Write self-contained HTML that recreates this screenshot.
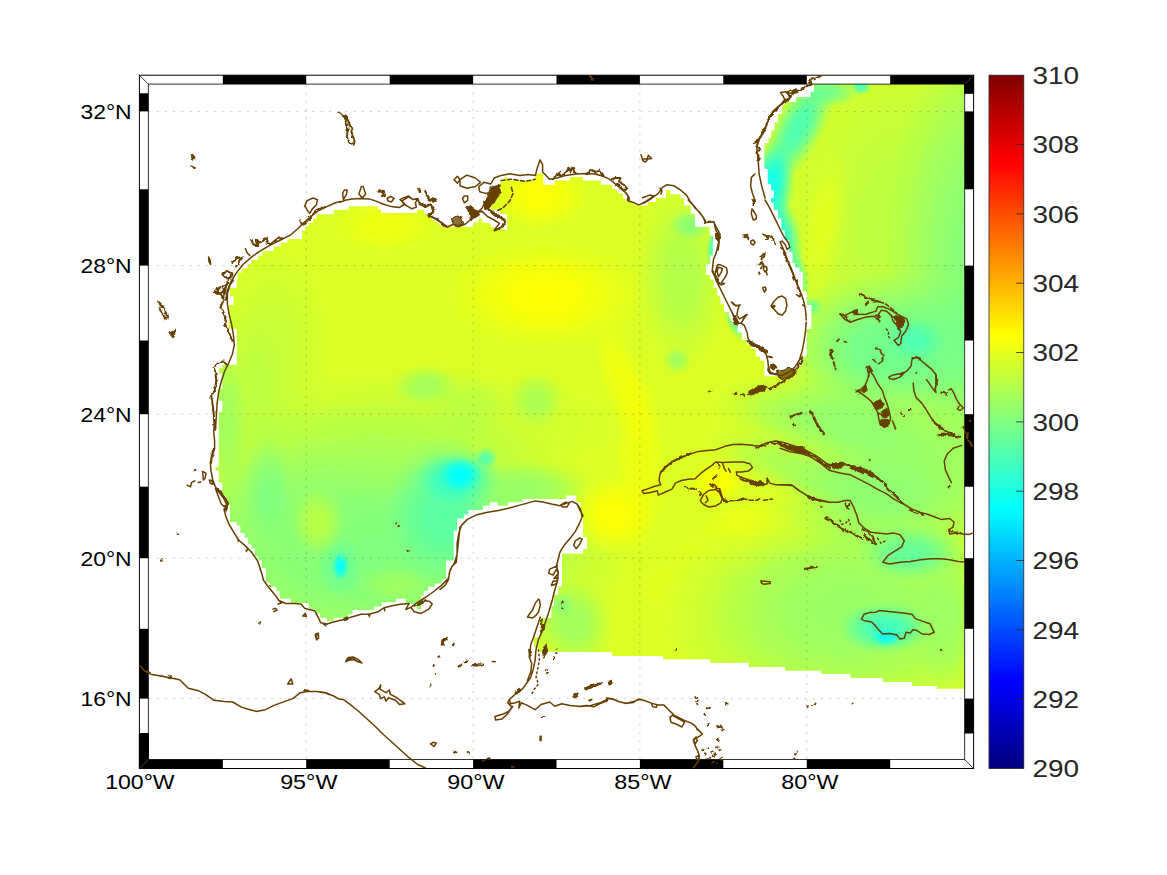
<!DOCTYPE html><html><head><meta charset="utf-8"><title>SST map</title>
<style>html,body{margin:0;padding:0;background:#fff;}svg{display:block;font-family:"Liberation Sans",sans-serif;}</style></head><body>
<svg width="1167" height="875" viewBox="0 0 1167 875">
<defs>
<linearGradient id="jet" x1="0" y1="1" x2="0" y2="0">
<stop offset="0" stop-color="#000080"/>
<stop offset="0.125" stop-color="#0000ff"/>
<stop offset="0.375" stop-color="#00ffff"/>
<stop offset="0.625" stop-color="#ffff00"/>
<stop offset="0.875" stop-color="#ff0000"/>
<stop offset="1" stop-color="#800000"/>
</linearGradient>
</defs>

<rect width="1167" height="875" fill="#fff"/>
<clipPath id="dclip"><path d="M340.0 209.7L348.6 209.7L348.6 206.3L377.7 206.3L377.7 209.7L381.1 209.7L381.1 213.1L417.1 213.1L417.1 209.7L424.0 209.7L424.0 214.0L429.1 214.0L432.5 220.0L439.4 223.4L441.1 226.8L473.7 226.8L473.7 222.5L478.8 222.5L478.8 218.3L482.2 218.3L482.2 222.5L490.8 223.4L490.8 226.8L496.0 227.7L507.1 230.2L507.1 214.0L500.2 214.0L500.2 209.7L490.8 209.7L490.8 206.3L494.2 201.1L500.2 185.7L500.2 180.5L504.5 180.5L504.5 177.1L507.1 177.1L507.1 180.5L535.4 180.5L535.4 173.7L540.0 173.7L540.0 173.7L543.4 173.7L543.4 184.8L554.6 184.8L554.6 180.5L570.0 180.5L570.0 177.1L582.8 177.1L582.8 180.5L600.8 180.5L600.8 184.8L612.0 184.8L612.0 189.1L615.4 189.1L618.8 193.4L623.1 193.4L623.1 197.7L627.4 202.0L634.3 202.0L634.3 205.4L648.0 205.4L648.0 202.0L655.7 202.0L655.7 197.7L666.0 197.7L666.0 190.0L670.2 190.0L670.2 194.3L680.5 194.3L680.5 197.7L684.0 197.7L684.0 205.4L690.8 205.4L690.8 214.0L695.1 214.0L695.1 226.8L709.7 226.8L709.7 235.4L713.1 235.4L713.1 250.0L712.8 240.0L712.8 255.4L710.3 255.4L710.3 264.0L706.0 264.0L706.0 275.1L710.3 275.1L710.3 279.4L713.7 279.4L713.7 288.0L717.1 288.0L717.1 295.7L720.5 295.7L720.5 304.3L724.0 304.3L724.0 312.0L729.1 312.0L729.1 316.3L733.4 324.0L737.7 325.7L737.7 332.5L742.0 332.5L742.0 340.3L747.1 340.3L747.1 344.5L751.4 344.5L751.4 348.8L755.7 348.8L755.7 356.5L760.0 356.5L760.0 360.8L764.3 360.8L764.3 376.2L776.8 376.2L782.2 372.8L793.2 369.6L800.1 367.3L802.1 356.5L806.9 356.5L806.9 329.1L811.4 329.1L811.4 305.1L807.1 305.1L807.1 291.4L802.8 291.4L802.8 271.7L799.4 271.7L799.4 267.4L795.1 267.4L795.1 263.1L792.5 263.1L792.5 252.0L789.1 252.0L789.1 240.0L784.8 240.0L784.8 230.5L781.4 230.5L781.4 218.5L778.0 218.5L778.0 210.0L773.7 210.0L773.7 203.1L771.1 203.1L771.1 198.0L773.7 198.0L773.7 190.3L771.1 190.3L771.1 184.3L767.7 184.3L767.7 168.8L764.3 168.8L764.3 143.1L768.6 143.1L768.6 138.0L771.1 138.0L771.1 130.3L774.6 130.3L774.6 122.6L778.0 122.6L778.0 114.0L782.3 114.0L782.3 107.1L785.7 102.0L796.0 102.0L796.0 96.9L810.5 96.9L810.5 91.7L814.0 91.7L814.0 90.0L813.9 90.0L813.9 84.0L964.4 84.0L964.4 688.8L936.8 688.8L936.8 685.9L912.0 685.9L912.0 682.0L882.8 682.0L882.8 678.0L850.3 678.0L850.3 673.9L821.1 673.9L821.1 670.8L785.1 670.8L785.1 667.1L780.0 667.1L780.0 667.1L748.8 667.1L748.8 663.1L710.2 663.1L710.2 659.2L663.1 659.2L663.1 655.9L612.2 655.9L612.2 652.0L580.0 652.0L538.5 651.8L538.5 647.6L533.9 647.6L533.9 637.4L540.3 637.4L540.3 618.0L551.4 618.0L551.4 606.0L554.0 606.0L554.0 600.0L554.0 606.0L554.0 594.8L558.3 594.8L558.3 586.3L562.0 586.3L562.0 553.4L583.1 553.4L583.1 549.1L587.0 549.1L587.0 537.1L583.1 537.1L583.1 516.8L580.5 516.8L580.5 502.3L576.2 502.3L576.2 495.4L566.0 495.4L566.0 498.9L522.3 498.9L522.3 502.3L507.7 502.3L507.7 505.7L497.4 505.7L497.4 502.3L489.7 502.3L489.7 505.7L482.8 505.7L482.8 510.0L468.3 510.0L468.3 514.3L464.0 514.3L464.0 518.6L457.1 518.6L457.1 530.6L453.7 530.6L453.7 560.5L446.0 560.5L446.0 579.4L441.7 579.4L441.7 582.8L440.0 582.8L441.7 579.1L441.7 583.4L434.8 583.4L434.8 586.8L428.0 586.8L428.0 591.1L423.7 591.1L423.7 595.4L421.1 595.4L421.1 609.1L416.8 609.1L416.8 604.0L405.7 604.0L405.7 598.8L396.2 598.8L396.2 602.3L381.7 602.3L381.7 606.5L374.0 606.5L374.0 610.0L352.5 610.0L352.5 614.3L348.3 614.3L348.3 617.7L333.7 617.7L333.7 621.1L326.8 621.1L326.8 617.7L320.0 617.7L320.0 613.4L315.7 613.4L315.7 609.1L308.8 609.1L308.8 603.1L290.8 603.1L290.8 598.8L279.7 598.8L279.7 591.1L276.3 591.1L276.3 586.8L270.3 586.8L270.3 582.6L266.0 582.6L266.0 568.0L261.7 568.0L261.7 560.3L260.0 560.3L261.7 560.5L258.3 560.5L258.3 556.2L254.8 556.2L254.8 548.5L251.4 548.5L251.4 544.3L248.0 544.3L248.0 537.4L244.5 537.4L244.5 533.1L240.3 533.1L240.3 525.4L236.8 525.4L236.8 522.0L230.0 522.0L230.0 504.8L226.5 504.8L226.5 496.3L222.3 496.3L222.3 482.6L218.8 482.6L218.8 470.6L215.4 470.6L215.4 467.1L218.8 467.1L218.8 420.0L218.8 430.0L218.8 412.0L222.3 412.0L222.3 400.8L218.8 400.8L218.8 388.8L222.3 388.8L222.3 373.4L218.8 373.4L218.8 368.3L222.3 368.3L222.3 364.8L236.8 364.8L236.8 328.8L229.1 328.8L229.1 304.9L233.4 304.9L233.4 296.3L230.0 296.3L230.0 287.7L236.8 287.7L236.8 280.0L237.7 280.2L237.7 272.5L242.0 272.5L242.0 268.3L248.0 268.3L248.0 264.0L251.4 264.0L251.4 259.7L258.3 259.7L258.3 255.4L262.5 255.4L262.5 251.1L273.7 251.1L273.7 246.8L280.5 246.8L280.5 242.5L287.4 242.5L287.4 239.1L302.0 239.1L302.0 230.5L305.4 230.5L305.4 226.3L308.8 226.3L308.8 222.8L313.1 222.8L313.1 218.6L316.5 218.6L316.5 214.3L333.7 214.3L333.7 210.0L340.0 210.0Z"/></clipPath><clipPath id="outer"><rect x="139.4" y="75.2" width="834.2" height="693.3"/></clipPath><g clip-path="url(#dclip)"><defs><radialGradient id="b0"><stop offset="0" stop-color="#ffffff" stop-opacity="0.95"/><stop offset="0.3" stop-color="#ffffff" stop-opacity="0.87"/><stop offset="0.55" stop-color="#ffffff" stop-opacity="0.59"/><stop offset="0.8" stop-color="#ffffff" stop-opacity="0.21"/><stop offset="1" stop-color="#ffffff" stop-opacity="0"/></radialGradient><radialGradient id="b1"><stop offset="0" stop-color="#ffffff" stop-opacity="0.90"/><stop offset="0.3" stop-color="#ffffff" stop-opacity="0.83"/><stop offset="0.55" stop-color="#ffffff" stop-opacity="0.56"/><stop offset="0.8" stop-color="#ffffff" stop-opacity="0.20"/><stop offset="1" stop-color="#ffffff" stop-opacity="0"/></radialGradient><radialGradient id="b2"><stop offset="0" stop-color="#ffffff" stop-opacity="0.55"/><stop offset="0.3" stop-color="#ffffff" stop-opacity="0.51"/><stop offset="0.55" stop-color="#ffffff" stop-opacity="0.34"/><stop offset="0.8" stop-color="#ffffff" stop-opacity="0.12"/><stop offset="1" stop-color="#ffffff" stop-opacity="0"/></radialGradient><radialGradient id="b3"><stop offset="0" stop-color="#8c8c8c" stop-opacity="0.70"/><stop offset="0.3" stop-color="#8c8c8c" stop-opacity="0.64"/><stop offset="0.55" stop-color="#8c8c8c" stop-opacity="0.43"/><stop offset="0.8" stop-color="#8c8c8c" stop-opacity="0.15"/><stop offset="1" stop-color="#8c8c8c" stop-opacity="0"/></radialGradient><radialGradient id="b4"><stop offset="0" stop-color="#999999" stop-opacity="0.70"/><stop offset="0.3" stop-color="#999999" stop-opacity="0.64"/><stop offset="0.55" stop-color="#999999" stop-opacity="0.43"/><stop offset="0.8" stop-color="#999999" stop-opacity="0.15"/><stop offset="1" stop-color="#999999" stop-opacity="0"/></radialGradient><radialGradient id="b5"><stop offset="0" stop-color="#8c8c8c" stop-opacity="0.75"/><stop offset="0.3" stop-color="#8c8c8c" stop-opacity="0.69"/><stop offset="0.55" stop-color="#8c8c8c" stop-opacity="0.46"/><stop offset="0.8" stop-color="#8c8c8c" stop-opacity="0.17"/><stop offset="1" stop-color="#8c8c8c" stop-opacity="0"/></radialGradient><radialGradient id="b6"><stop offset="0" stop-color="#b2b2b2" stop-opacity="0.50"/><stop offset="0.3" stop-color="#b2b2b2" stop-opacity="0.46"/><stop offset="0.55" stop-color="#b2b2b2" stop-opacity="0.31"/><stop offset="0.8" stop-color="#b2b2b2" stop-opacity="0.11"/><stop offset="1" stop-color="#b2b2b2" stop-opacity="0"/></radialGradient><radialGradient id="b7"><stop offset="0" stop-color="#9e9e9e" stop-opacity="0.65"/><stop offset="0.3" stop-color="#9e9e9e" stop-opacity="0.60"/><stop offset="0.55" stop-color="#9e9e9e" stop-opacity="0.40"/><stop offset="0.8" stop-color="#9e9e9e" stop-opacity="0.14"/><stop offset="1" stop-color="#9e9e9e" stop-opacity="0"/></radialGradient><radialGradient id="b8"><stop offset="0" stop-color="#ffffff" stop-opacity="0.60"/><stop offset="0.3" stop-color="#ffffff" stop-opacity="0.55"/><stop offset="0.55" stop-color="#ffffff" stop-opacity="0.37"/><stop offset="0.8" stop-color="#ffffff" stop-opacity="0.13"/><stop offset="1" stop-color="#ffffff" stop-opacity="0"/></radialGradient><radialGradient id="b9"><stop offset="0" stop-color="#808080" stop-opacity="0.60"/><stop offset="0.3" stop-color="#808080" stop-opacity="0.55"/><stop offset="0.55" stop-color="#808080" stop-opacity="0.37"/><stop offset="0.8" stop-color="#808080" stop-opacity="0.13"/><stop offset="1" stop-color="#808080" stop-opacity="0"/></radialGradient><radialGradient id="b10"><stop offset="0" stop-color="#adadad" stop-opacity="0.50"/><stop offset="0.3" stop-color="#adadad" stop-opacity="0.46"/><stop offset="0.55" stop-color="#adadad" stop-opacity="0.31"/><stop offset="0.8" stop-color="#adadad" stop-opacity="0.11"/><stop offset="1" stop-color="#adadad" stop-opacity="0"/></radialGradient><radialGradient id="b11"><stop offset="0" stop-color="#adadad" stop-opacity="0.45"/><stop offset="0.3" stop-color="#adadad" stop-opacity="0.41"/><stop offset="0.55" stop-color="#adadad" stop-opacity="0.28"/><stop offset="0.8" stop-color="#adadad" stop-opacity="0.10"/><stop offset="1" stop-color="#adadad" stop-opacity="0"/></radialGradient><radialGradient id="b12"><stop offset="0" stop-color="#adadad" stop-opacity="0.40"/><stop offset="0.3" stop-color="#adadad" stop-opacity="0.37"/><stop offset="0.55" stop-color="#adadad" stop-opacity="0.25"/><stop offset="0.8" stop-color="#adadad" stop-opacity="0.09"/><stop offset="1" stop-color="#adadad" stop-opacity="0"/></radialGradient><radialGradient id="b13"><stop offset="0" stop-color="#808080" stop-opacity="1.00"/><stop offset="0.3" stop-color="#808080" stop-opacity="0.92"/><stop offset="0.55" stop-color="#808080" stop-opacity="0.62"/><stop offset="0.8" stop-color="#808080" stop-opacity="0.22"/><stop offset="1" stop-color="#808080" stop-opacity="0"/></radialGradient><radialGradient id="b14"><stop offset="0" stop-color="#8c8c8c" stop-opacity="0.60"/><stop offset="0.3" stop-color="#8c8c8c" stop-opacity="0.55"/><stop offset="0.55" stop-color="#8c8c8c" stop-opacity="0.37"/><stop offset="0.8" stop-color="#8c8c8c" stop-opacity="0.13"/><stop offset="1" stop-color="#8c8c8c" stop-opacity="0"/></radialGradient><radialGradient id="b15"><stop offset="0" stop-color="#4c4c4c" stop-opacity="0.80"/><stop offset="0.3" stop-color="#4c4c4c" stop-opacity="0.74"/><stop offset="0.55" stop-color="#4c4c4c" stop-opacity="0.50"/><stop offset="0.8" stop-color="#4c4c4c" stop-opacity="0.18"/><stop offset="1" stop-color="#4c4c4c" stop-opacity="0"/></radialGradient><radialGradient id="b16"><stop offset="0" stop-color="#262626" stop-opacity="0.80"/><stop offset="0.3" stop-color="#262626" stop-opacity="0.74"/><stop offset="0.55" stop-color="#262626" stop-opacity="0.50"/><stop offset="0.8" stop-color="#262626" stop-opacity="0.18"/><stop offset="1" stop-color="#262626" stop-opacity="0"/></radialGradient><radialGradient id="b17"><stop offset="0" stop-color="#000000" stop-opacity="1.00"/><stop offset="0.3" stop-color="#000000" stop-opacity="0.92"/><stop offset="0.55" stop-color="#000000" stop-opacity="0.62"/><stop offset="0.8" stop-color="#000000" stop-opacity="0.22"/><stop offset="1" stop-color="#000000" stop-opacity="0"/></radialGradient><radialGradient id="b18"><stop offset="0" stop-color="#404040" stop-opacity="0.80"/><stop offset="0.3" stop-color="#404040" stop-opacity="0.74"/><stop offset="0.55" stop-color="#404040" stop-opacity="0.50"/><stop offset="0.8" stop-color="#404040" stop-opacity="0.18"/><stop offset="1" stop-color="#404040" stop-opacity="0"/></radialGradient><radialGradient id="b19"><stop offset="0" stop-color="#808080" stop-opacity="0.60"/><stop offset="0.3" stop-color="#808080" stop-opacity="0.55"/><stop offset="0.55" stop-color="#808080" stop-opacity="0.37"/><stop offset="0.8" stop-color="#808080" stop-opacity="0.13"/><stop offset="1" stop-color="#808080" stop-opacity="0"/></radialGradient><radialGradient id="b20"><stop offset="0" stop-color="#595959" stop-opacity="0.60"/><stop offset="0.3" stop-color="#595959" stop-opacity="0.55"/><stop offset="0.55" stop-color="#595959" stop-opacity="0.37"/><stop offset="0.8" stop-color="#595959" stop-opacity="0.13"/><stop offset="1" stop-color="#595959" stop-opacity="0"/></radialGradient><radialGradient id="b21"><stop offset="0" stop-color="#000000" stop-opacity="0.95"/><stop offset="0.3" stop-color="#000000" stop-opacity="0.87"/><stop offset="0.55" stop-color="#000000" stop-opacity="0.59"/><stop offset="0.8" stop-color="#000000" stop-opacity="0.21"/><stop offset="1" stop-color="#000000" stop-opacity="0"/></radialGradient><radialGradient id="b22"><stop offset="0" stop-color="#737373" stop-opacity="0.60"/><stop offset="0.3" stop-color="#737373" stop-opacity="0.55"/><stop offset="0.55" stop-color="#737373" stop-opacity="0.37"/><stop offset="0.8" stop-color="#737373" stop-opacity="0.13"/><stop offset="1" stop-color="#737373" stop-opacity="0"/></radialGradient><radialGradient id="b23"><stop offset="0" stop-color="#d9d9d9" stop-opacity="0.60"/><stop offset="0.3" stop-color="#d9d9d9" stop-opacity="0.55"/><stop offset="0.55" stop-color="#d9d9d9" stop-opacity="0.37"/><stop offset="0.8" stop-color="#d9d9d9" stop-opacity="0.13"/><stop offset="1" stop-color="#d9d9d9" stop-opacity="0"/></radialGradient><radialGradient id="b24"><stop offset="0" stop-color="#bfbfbf" stop-opacity="0.40"/><stop offset="0.3" stop-color="#bfbfbf" stop-opacity="0.37"/><stop offset="0.55" stop-color="#bfbfbf" stop-opacity="0.25"/><stop offset="0.8" stop-color="#bfbfbf" stop-opacity="0.09"/><stop offset="1" stop-color="#bfbfbf" stop-opacity="0"/></radialGradient><radialGradient id="b25"><stop offset="0" stop-color="#ffffff" stop-opacity="0.50"/><stop offset="0.3" stop-color="#ffffff" stop-opacity="0.46"/><stop offset="0.55" stop-color="#ffffff" stop-opacity="0.31"/><stop offset="0.8" stop-color="#ffffff" stop-opacity="0.11"/><stop offset="1" stop-color="#ffffff" stop-opacity="0"/></radialGradient><radialGradient id="b26"><stop offset="0" stop-color="#ffffff" stop-opacity="0.90"/><stop offset="0.3" stop-color="#ffffff" stop-opacity="0.83"/><stop offset="0.55" stop-color="#ffffff" stop-opacity="0.56"/><stop offset="0.8" stop-color="#ffffff" stop-opacity="0.20"/><stop offset="1" stop-color="#ffffff" stop-opacity="0"/></radialGradient><radialGradient id="b27"><stop offset="0" stop-color="#ffffff" stop-opacity="0.90"/><stop offset="0.3" stop-color="#ffffff" stop-opacity="0.83"/><stop offset="0.55" stop-color="#ffffff" stop-opacity="0.56"/><stop offset="0.8" stop-color="#ffffff" stop-opacity="0.20"/><stop offset="1" stop-color="#ffffff" stop-opacity="0"/></radialGradient><radialGradient id="b28"><stop offset="0" stop-color="#ffffff" stop-opacity="0.60"/><stop offset="0.3" stop-color="#ffffff" stop-opacity="0.55"/><stop offset="0.55" stop-color="#ffffff" stop-opacity="0.37"/><stop offset="0.8" stop-color="#ffffff" stop-opacity="0.13"/><stop offset="1" stop-color="#ffffff" stop-opacity="0"/></radialGradient><radialGradient id="b29"><stop offset="0" stop-color="#f2f2f2" stop-opacity="0.50"/><stop offset="0.3" stop-color="#f2f2f2" stop-opacity="0.46"/><stop offset="0.55" stop-color="#f2f2f2" stop-opacity="0.31"/><stop offset="0.8" stop-color="#f2f2f2" stop-opacity="0.11"/><stop offset="1" stop-color="#f2f2f2" stop-opacity="0"/></radialGradient><radialGradient id="b30"><stop offset="0" stop-color="#e6e6e6" stop-opacity="0.50"/><stop offset="0.3" stop-color="#e6e6e6" stop-opacity="0.46"/><stop offset="0.55" stop-color="#e6e6e6" stop-opacity="0.31"/><stop offset="0.8" stop-color="#e6e6e6" stop-opacity="0.11"/><stop offset="1" stop-color="#e6e6e6" stop-opacity="0"/></radialGradient><radialGradient id="b31"><stop offset="0" stop-color="#f2f2f2" stop-opacity="0.50"/><stop offset="0.3" stop-color="#f2f2f2" stop-opacity="0.46"/><stop offset="0.55" stop-color="#f2f2f2" stop-opacity="0.31"/><stop offset="0.8" stop-color="#f2f2f2" stop-opacity="0.11"/><stop offset="1" stop-color="#f2f2f2" stop-opacity="0"/></radialGradient><radialGradient id="b32"><stop offset="0" stop-color="#d9d9d9" stop-opacity="0.50"/><stop offset="0.3" stop-color="#d9d9d9" stop-opacity="0.46"/><stop offset="0.55" stop-color="#d9d9d9" stop-opacity="0.31"/><stop offset="0.8" stop-color="#d9d9d9" stop-opacity="0.11"/><stop offset="1" stop-color="#d9d9d9" stop-opacity="0"/></radialGradient><radialGradient id="b33"><stop offset="0" stop-color="#e6e6e6" stop-opacity="0.40"/><stop offset="0.3" stop-color="#e6e6e6" stop-opacity="0.37"/><stop offset="0.55" stop-color="#e6e6e6" stop-opacity="0.25"/><stop offset="0.8" stop-color="#e6e6e6" stop-opacity="0.09"/><stop offset="1" stop-color="#e6e6e6" stop-opacity="0"/></radialGradient><radialGradient id="b34"><stop offset="0" stop-color="#8c8c8c" stop-opacity="0.85"/><stop offset="0.3" stop-color="#8c8c8c" stop-opacity="0.78"/><stop offset="0.55" stop-color="#8c8c8c" stop-opacity="0.53"/><stop offset="0.8" stop-color="#8c8c8c" stop-opacity="0.19"/><stop offset="1" stop-color="#8c8c8c" stop-opacity="0"/></radialGradient><radialGradient id="b35"><stop offset="0" stop-color="#404040" stop-opacity="0.70"/><stop offset="0.3" stop-color="#404040" stop-opacity="0.64"/><stop offset="0.55" stop-color="#404040" stop-opacity="0.43"/><stop offset="0.8" stop-color="#404040" stop-opacity="0.15"/><stop offset="1" stop-color="#404040" stop-opacity="0"/></radialGradient><radialGradient id="b36"><stop offset="0" stop-color="#333333" stop-opacity="0.85"/><stop offset="0.3" stop-color="#333333" stop-opacity="0.78"/><stop offset="0.55" stop-color="#333333" stop-opacity="0.53"/><stop offset="0.8" stop-color="#333333" stop-opacity="0.19"/><stop offset="1" stop-color="#333333" stop-opacity="0"/></radialGradient><radialGradient id="b37"><stop offset="0" stop-color="#000000" stop-opacity="0.80"/><stop offset="0.3" stop-color="#000000" stop-opacity="0.74"/><stop offset="0.55" stop-color="#000000" stop-opacity="0.50"/><stop offset="0.8" stop-color="#000000" stop-opacity="0.18"/><stop offset="1" stop-color="#000000" stop-opacity="0"/></radialGradient><radialGradient id="b38"><stop offset="0" stop-color="#8c8c8c" stop-opacity="0.70"/><stop offset="0.3" stop-color="#8c8c8c" stop-opacity="0.64"/><stop offset="0.55" stop-color="#8c8c8c" stop-opacity="0.43"/><stop offset="0.8" stop-color="#8c8c8c" stop-opacity="0.15"/><stop offset="1" stop-color="#8c8c8c" stop-opacity="0"/></radialGradient><radialGradient id="b39"><stop offset="0" stop-color="#737373" stop-opacity="0.60"/><stop offset="0.3" stop-color="#737373" stop-opacity="0.55"/><stop offset="0.55" stop-color="#737373" stop-opacity="0.37"/><stop offset="0.8" stop-color="#737373" stop-opacity="0.13"/><stop offset="1" stop-color="#737373" stop-opacity="0"/></radialGradient><radialGradient id="b40"><stop offset="0" stop-color="#999999" stop-opacity="0.45"/><stop offset="0.3" stop-color="#999999" stop-opacity="0.41"/><stop offset="0.55" stop-color="#999999" stop-opacity="0.28"/><stop offset="0.8" stop-color="#999999" stop-opacity="0.10"/><stop offset="1" stop-color="#999999" stop-opacity="0"/></radialGradient><radialGradient id="b41"><stop offset="0" stop-color="#404040" stop-opacity="0.90"/><stop offset="0.3" stop-color="#404040" stop-opacity="0.83"/><stop offset="0.55" stop-color="#404040" stop-opacity="0.56"/><stop offset="0.8" stop-color="#404040" stop-opacity="0.20"/><stop offset="1" stop-color="#404040" stop-opacity="0"/></radialGradient><radialGradient id="b42"><stop offset="0" stop-color="#595959" stop-opacity="0.70"/><stop offset="0.3" stop-color="#595959" stop-opacity="0.64"/><stop offset="0.55" stop-color="#595959" stop-opacity="0.43"/><stop offset="0.8" stop-color="#595959" stop-opacity="0.15"/><stop offset="1" stop-color="#595959" stop-opacity="0"/></radialGradient><radialGradient id="b43"><stop offset="0" stop-color="#000000" stop-opacity="0.90"/><stop offset="0.3" stop-color="#000000" stop-opacity="0.83"/><stop offset="0.55" stop-color="#000000" stop-opacity="0.56"/><stop offset="0.8" stop-color="#000000" stop-opacity="0.20"/><stop offset="1" stop-color="#000000" stop-opacity="0"/></radialGradient><radialGradient id="b44"><stop offset="0" stop-color="#1a1a1a" stop-opacity="0.90"/><stop offset="0.3" stop-color="#1a1a1a" stop-opacity="0.83"/><stop offset="0.55" stop-color="#1a1a1a" stop-opacity="0.56"/><stop offset="0.8" stop-color="#1a1a1a" stop-opacity="0.20"/><stop offset="1" stop-color="#1a1a1a" stop-opacity="0"/></radialGradient><radialGradient id="b45"><stop offset="0" stop-color="#404040" stop-opacity="0.80"/><stop offset="0.3" stop-color="#404040" stop-opacity="0.74"/><stop offset="0.55" stop-color="#404040" stop-opacity="0.50"/><stop offset="0.8" stop-color="#404040" stop-opacity="0.18"/><stop offset="1" stop-color="#404040" stop-opacity="0"/></radialGradient><radialGradient id="b46"><stop offset="0" stop-color="#f2f2f2" stop-opacity="0.55"/><stop offset="0.3" stop-color="#f2f2f2" stop-opacity="0.51"/><stop offset="0.55" stop-color="#f2f2f2" stop-opacity="0.34"/><stop offset="0.8" stop-color="#f2f2f2" stop-opacity="0.12"/><stop offset="1" stop-color="#f2f2f2" stop-opacity="0"/></radialGradient><radialGradient id="b47"><stop offset="0" stop-color="#666666" stop-opacity="0.70"/><stop offset="0.3" stop-color="#666666" stop-opacity="0.64"/><stop offset="0.55" stop-color="#666666" stop-opacity="0.43"/><stop offset="0.8" stop-color="#666666" stop-opacity="0.15"/><stop offset="1" stop-color="#666666" stop-opacity="0"/></radialGradient><radialGradient id="b48"><stop offset="0" stop-color="#333333" stop-opacity="0.85"/><stop offset="0.3" stop-color="#333333" stop-opacity="0.78"/><stop offset="0.55" stop-color="#333333" stop-opacity="0.53"/><stop offset="0.8" stop-color="#333333" stop-opacity="0.19"/><stop offset="1" stop-color="#333333" stop-opacity="0"/></radialGradient><radialGradient id="b49"><stop offset="0" stop-color="#666666" stop-opacity="0.90"/><stop offset="0.3" stop-color="#666666" stop-opacity="0.83"/><stop offset="0.55" stop-color="#666666" stop-opacity="0.56"/><stop offset="0.8" stop-color="#666666" stop-opacity="0.20"/><stop offset="1" stop-color="#666666" stop-opacity="0"/></radialGradient><radialGradient id="b50"><stop offset="0" stop-color="#808080" stop-opacity="0.80"/><stop offset="0.3" stop-color="#808080" stop-opacity="0.74"/><stop offset="0.55" stop-color="#808080" stop-opacity="0.50"/><stop offset="0.8" stop-color="#808080" stop-opacity="0.18"/><stop offset="1" stop-color="#808080" stop-opacity="0"/></radialGradient><radialGradient id="b51"><stop offset="0" stop-color="#404040" stop-opacity="0.70"/><stop offset="0.3" stop-color="#404040" stop-opacity="0.64"/><stop offset="0.55" stop-color="#404040" stop-opacity="0.43"/><stop offset="0.8" stop-color="#404040" stop-opacity="0.15"/><stop offset="1" stop-color="#404040" stop-opacity="0"/></radialGradient><radialGradient id="b52"><stop offset="0" stop-color="#595959" stop-opacity="0.70"/><stop offset="0.3" stop-color="#595959" stop-opacity="0.64"/><stop offset="0.55" stop-color="#595959" stop-opacity="0.43"/><stop offset="0.8" stop-color="#595959" stop-opacity="0.15"/><stop offset="1" stop-color="#595959" stop-opacity="0"/></radialGradient><radialGradient id="b53"><stop offset="0" stop-color="#4c4c4c" stop-opacity="0.75"/><stop offset="0.3" stop-color="#4c4c4c" stop-opacity="0.69"/><stop offset="0.55" stop-color="#4c4c4c" stop-opacity="0.46"/><stop offset="0.8" stop-color="#4c4c4c" stop-opacity="0.17"/><stop offset="1" stop-color="#4c4c4c" stop-opacity="0"/></radialGradient><radialGradient id="b54"><stop offset="0" stop-color="#333333" stop-opacity="0.85"/><stop offset="0.3" stop-color="#333333" stop-opacity="0.78"/><stop offset="0.55" stop-color="#333333" stop-opacity="0.53"/><stop offset="0.8" stop-color="#333333" stop-opacity="0.19"/><stop offset="1" stop-color="#333333" stop-opacity="0"/></radialGradient><radialGradient id="b55"><stop offset="0" stop-color="#737373" stop-opacity="0.70"/><stop offset="0.3" stop-color="#737373" stop-opacity="0.64"/><stop offset="0.55" stop-color="#737373" stop-opacity="0.43"/><stop offset="0.8" stop-color="#737373" stop-opacity="0.15"/><stop offset="1" stop-color="#737373" stop-opacity="0"/></radialGradient><radialGradient id="b56"><stop offset="0" stop-color="#8c8c8c" stop-opacity="0.60"/><stop offset="0.3" stop-color="#8c8c8c" stop-opacity="0.55"/><stop offset="0.55" stop-color="#8c8c8c" stop-opacity="0.37"/><stop offset="0.8" stop-color="#8c8c8c" stop-opacity="0.13"/><stop offset="1" stop-color="#8c8c8c" stop-opacity="0"/></radialGradient><radialGradient id="b57"><stop offset="0" stop-color="#808080" stop-opacity="0.85"/><stop offset="0.3" stop-color="#808080" stop-opacity="0.78"/><stop offset="0.55" stop-color="#808080" stop-opacity="0.53"/><stop offset="0.8" stop-color="#808080" stop-opacity="0.19"/><stop offset="1" stop-color="#808080" stop-opacity="0"/></radialGradient><radialGradient id="b58"><stop offset="0" stop-color="#8c8c8c" stop-opacity="0.50"/><stop offset="0.3" stop-color="#8c8c8c" stop-opacity="0.46"/><stop offset="0.55" stop-color="#8c8c8c" stop-opacity="0.31"/><stop offset="0.8" stop-color="#8c8c8c" stop-opacity="0.11"/><stop offset="1" stop-color="#8c8c8c" stop-opacity="0"/></radialGradient><filter id="jetmap" x="0" y="0" width="100%" height="100%" filterUnits="userSpaceOnUse" color-interpolation-filters="sRGB"><feColorMatrix type="matrix" values="1 0 0 0 0  0 0 0 0 1  -1 0 0 0 1  0 0 0 1 0"/></filter></defs><g filter="url(#jetmap)"><rect x="139" y="75" width="836" height="695" fill="#dbdbdb"/><ellipse cx="545" cy="295" rx="100" ry="55" fill="url(#b0)"/><ellipse cx="540" cy="195" rx="50" ry="36" fill="url(#b1)"/><ellipse cx="385" cy="225" rx="55" ry="30" fill="url(#b2)"/><ellipse cx="426" cy="386" rx="36" ry="22" fill="url(#b3)"/><ellipse cx="536" cy="400" rx="30" ry="30" fill="url(#b4)"/><ellipse cx="226" cy="415" rx="24" ry="75" fill="url(#b5)"/><ellipse cx="272" cy="350" rx="60" ry="110" fill="url(#b6)"/><ellipse cx="682" cy="275" rx="48" ry="95" fill="url(#b7)"/><ellipse cx="625" cy="385" rx="24" ry="75" fill="url(#b8)" transform="rotate(-20 625 385)"/><ellipse cx="677" cy="360" rx="15" ry="15" fill="url(#b9)"/><ellipse cx="470" cy="405" rx="40" ry="35" fill="url(#b10)"/><ellipse cx="400" cy="425" rx="230" ry="55" fill="url(#b11)"/><ellipse cx="250" cy="400" rx="40" ry="90" fill="url(#b12)"/><ellipse cx="370" cy="550" rx="260" ry="150" fill="url(#b13)"/><ellipse cx="290" cy="520" rx="100" ry="90" fill="url(#b14)"/><ellipse cx="445" cy="510" rx="60" ry="75" fill="url(#b15)"/><ellipse cx="458" cy="478" rx="44" ry="28" fill="url(#b16)"/><ellipse cx="460.5" cy="475" rx="22" ry="18" fill="url(#b17)"/><ellipse cx="486" cy="458" rx="12" ry="11" fill="url(#b18)"/><ellipse cx="525" cy="488" rx="65" ry="28" fill="url(#b19)"/><ellipse cx="340" cy="566" rx="24" ry="32" fill="url(#b20)"/><ellipse cx="340.5" cy="566" rx="9" ry="15" fill="url(#b21)"/><ellipse cx="268" cy="490" rx="26" ry="55" fill="url(#b22)"/><ellipse cx="318" cy="522" rx="28" ry="36" fill="url(#b23)"/><ellipse cx="395" cy="585" rx="40" ry="20" fill="url(#b24)"/><ellipse cx="640" cy="460" rx="28" ry="100" fill="url(#b25)"/><ellipse cx="612" cy="515" rx="45" ry="42" fill="url(#b26)"/><ellipse cx="717" cy="482" rx="30" ry="22" fill="url(#b27)"/><ellipse cx="750" cy="526" rx="50" ry="26" fill="url(#b28)"/><ellipse cx="795" cy="538" rx="55" ry="20" fill="url(#b29)"/><ellipse cx="800" cy="585" rx="45" ry="18" fill="url(#b30)"/><ellipse cx="745" cy="552" rx="75" ry="28" fill="url(#b31)"/><ellipse cx="940" cy="605" rx="25" ry="15" fill="url(#b32)"/><ellipse cx="700" cy="590" rx="90" ry="50" fill="url(#b33)"/><ellipse cx="850" cy="610" rx="190" ry="120" fill="url(#b34)"/><ellipse cx="912" cy="552" rx="55" ry="30" fill="url(#b35)"/><ellipse cx="885" cy="628" rx="48" ry="26" fill="url(#b36)"/><ellipse cx="886" cy="637" rx="16" ry="10" fill="url(#b37)"/><ellipse cx="575" cy="625" rx="40" ry="45" fill="url(#b38)"/><ellipse cx="562" cy="605" rx="13" ry="13" fill="url(#b39)"/><ellipse cx="905" cy="230" rx="140" ry="220" fill="url(#b40)"/><ellipse cx="798" cy="128" rx="26" ry="70" fill="url(#b41)" transform="rotate(28 798 128)"/><ellipse cx="830" cy="92" rx="30" ry="16" fill="url(#b42)"/><ellipse cx="772" cy="185" rx="24" ry="45" fill="url(#b43)" transform="rotate(5 772 185)"/><ellipse cx="780" cy="235" rx="22" ry="50" fill="url(#b44)" transform="rotate(-12 780 235)"/><ellipse cx="795" cy="275" rx="15" ry="30" fill="url(#b45)" transform="rotate(-15 795 275)"/><ellipse cx="825" cy="222" rx="24" ry="85" fill="url(#b46)" transform="rotate(8 825 222)"/><ellipse cx="985" cy="290" rx="100" ry="300" fill="url(#b47)"/><ellipse cx="861" cy="86" rx="11" ry="10" fill="url(#b48)"/><ellipse cx="890" cy="350" rx="120" ry="80" fill="url(#b49)"/><ellipse cx="850" cy="425" rx="140" ry="45" fill="url(#b50)" transform="rotate(10 850 425)"/><ellipse cx="916" cy="340" rx="30" ry="22" fill="url(#b51)"/><ellipse cx="812" cy="307" rx="12" ry="11" fill="url(#b52)"/><ellipse cx="735" cy="322" rx="9" ry="22" fill="url(#b53)" transform="rotate(-25 735 322)"/><ellipse cx="714" cy="250" rx="8" ry="24" fill="url(#b54)"/><ellipse cx="690" cy="225" rx="22" ry="16" fill="url(#b55)"/><ellipse cx="800" cy="470" rx="100" ry="28" fill="url(#b56)" transform="rotate(20 800 470)"/><ellipse cx="890" cy="490" rx="115" ry="70" fill="url(#b57)"/><ellipse cx="945" cy="620" rx="35" ry="80" fill="url(#b58)"/></g></g>
<path d="M306.2 84.1V759.6M473.1 84.1V759.6M639.9 84.1V759.6M806.8 84.1V759.6M148.3 111.4H964.7M148.3 265.6H964.7M148.3 414.2H964.7M148.3 558.2H964.7M148.3 698.6H964.7" stroke="#000" stroke-opacity="0.26" stroke-width="0.7" stroke-dasharray="2.4 5.8" fill="none"/>
<path d="M139.4 75.2L139.4 768.5L148.3 759.6L148.3 84.10000000000001Z" fill="#fff"/><rect x="139.4" y="93.3" width="8.9" height="18.1" fill="#000"/><rect x="139.4" y="189.3" width="8.9" height="76.3" fill="#000"/><rect x="139.4" y="340.5" width="8.9" height="73.7" fill="#000"/><rect x="139.4" y="486.7" width="8.9" height="71.5" fill="#000"/><rect x="139.4" y="628.8" width="8.9" height="69.8" fill="#000"/>
<path d="M973.6 75.2L973.6 768.5L964.7 759.6L964.7 84.10000000000001Z" fill="#fff"/><rect x="964.7" y="111.4" width="8.9" height="77.9" fill="#000"/><rect x="964.7" y="265.6" width="8.9" height="74.9" fill="#000"/><rect x="964.7" y="414.2" width="8.9" height="72.5" fill="#000"/><rect x="964.7" y="558.2" width="8.9" height="70.6" fill="#000"/><rect x="964.7" y="698.6" width="8.9" height="34.9" fill="#000"/>
<path d="M964.7 84.10000000000001L973.6 75.2L973.6 93.3L964.7 93.3Z" fill="#000" stroke="#000" stroke-width="1"/>
<path d="M148.3 759.6L139.4 768.5L139.4 733.5L148.3 733.5Z" fill="#000" stroke="#000" stroke-width="1"/>
<path d="M139.4 75.2L973.6 75.2L964.7 84.10000000000001L148.3 84.10000000000001Z" fill="#fff"/><path d="M222.8 75.2L306.2 75.2L306.2 84.10000000000001L222.8 84.10000000000001Z" fill="#000"/><path d="M389.7 75.2L473.1 75.2L473.1 84.10000000000001L389.7 84.10000000000001Z" fill="#000"/><path d="M556.5 75.2L639.9 75.2L639.9 84.10000000000001L556.5 84.10000000000001Z" fill="#000"/><path d="M723.3 75.2L806.8 75.2L806.8 84.10000000000001L723.3 84.10000000000001Z" fill="#000"/><path d="M890.2 75.2L973.6 75.2L964.7 84.10000000000001L890.2 84.10000000000001Z" fill="#000"/>
<path d="M139.4 768.5L973.6 768.5L964.7 759.6L148.3 759.6Z" fill="#fff"/><path d="M139.4 768.5L222.8 768.5L222.8 759.6L148.3 759.6Z" fill="#000"/><path d="M306.2 768.5L389.7 768.5L389.7 759.6L306.2 759.6Z" fill="#000"/><path d="M473.1 768.5L556.5 768.5L556.5 759.6L473.1 759.6Z" fill="#000"/><path d="M639.9 768.5L723.3 768.5L723.3 759.6L639.9 759.6Z" fill="#000"/><path d="M806.8 768.5L890.2 768.5L890.2 759.6L806.8 759.6Z" fill="#000"/>
<rect x="139.4" y="75.2" width="834.2" height="693.3" fill="none" stroke="#000" stroke-width="1"/>
<rect x="148.3" y="84.10000000000001" width="816.4" height="675.5" fill="none" stroke="#000" stroke-width="0.8"/>
<path d="M139.4 75.2L148.3 84.10000000000001M973.6 768.5L964.7 759.6" stroke="#000" stroke-width="0.8" fill="none"/>
<defs><filter id="rough" x="130" y="70" width="850" height="705" filterUnits="userSpaceOnUse"><feTurbulence type="fractalNoise" baseFrequency="0.22" numOctaves="2" seed="7" result="n"/><feDisplacementMap in="SourceGraphic" in2="n" scale="4" xChannelSelector="R" yChannelSelector="G"/></filter></defs><g fill="none" stroke="#664000" stroke-linejoin="round" stroke-linecap="round" clip-path="url(#outer)"><path d="M340.0 202.3L345.1 200.3L352.0 198.9L360.6 198.5L369.1 198.9L376.0 201.1L382.8 204.0L391.4 206.6L399.1 207.6L404.3 204.5L401.7 201.1L408.6 196.8L412.8 199.4L418.0 199.1L419.7 204.5L425.7 207.1L428.3 204.5L431.7 205.4L433.4 211.4L429.1 215.7L434.3 218.3L437.7 220.0L442.8 223.4L447.1 227.2L453.1 224.3L458.3 226.8L465.1 224.3L470.2 220.0L472.8 216.5L470.2 211.4L466.8 207.1L472.0 209.7L478.8 211.4L482.2 208.0L484.8 202.8L487.4 198.5L492.5 196.0L496.0 189.1L500.2 185.7L494.2 187.4L490.8 192.5L485.7 193.4L479.7 191.7L478.8 186.5L484.0 182.3L490.8 184.0L494.2 178.0L501.1 175.4L509.7 173.7L519.9 175.4L528.5 174.6L535.4 175.4L537.1 168.6L540.0 160.0M484.8 202.8L489.1 209.7L494.2 213.1L501.1 218.3L505.4 221.7L502.8 226.8L494.2 230.2L499.4 223.4L494.2 220.0L487.4 216.5L482.2 211.4M460.0 179.7L466.8 175.1L475.4 178.0L480.5 182.3L475.4 186.5L466.8 188.3L460.0 185.7ZM454.0 179.7L457.4 176.3L460.0 179.7L457.4 183.1ZM540.0 160.0L542.6 164.3L542.6 172.0L546.0 175.4L549.4 179.2L557.1 178.0L565.7 175.4L576.0 174.0L586.3 173.4L594.8 174.0L603.4 176.3L610.3 179.7L615.4 184.0L621.4 189.1L626.5 193.4L629.1 197.7L629.1 201.1L634.3 202.8L638.5 204.9L644.5 202.8L651.4 198.5L658.3 193.4L662.5 187.4L666.8 184.8L673.7 185.7L680.5 190.0L686.5 195.1L690.0 201.1L694.2 206.3L698.5 211.4L702.8 216.5L705.4 222.5L714.0 221.7L715.7 230.2L719.1 235.4L719.1 242.2L718.2 250.0M626.5 193.9L628.3 196.0L627.4 200.3L629.5 201.5M641.1 154.8L642.8 160.8L645.4 162.0L648.0 159.1L651.7 158.6L648.3 155.2L647.1 159.1L643.7 159.1M642.5 197.7L649.7 195.1L654.0 196.0L646.3 201.1L642.8 202.8M660.0 188.3L662.0 190.8L660.8 193.9M733.4 318.8L736.0 324.0L741.1 323.1L744.5 325.7L747.1 332.5L748.0 338.5L751.4 343.7L756.5 346.3L762.5 349.7L766.0 354.0L767.7 360.0L768.5 366.8L770.2 372.0L775.4 374.5L782.2 375.4L789.1 372.0L795.1 366.8L799.4 360.0L802.0 351.4L803.7 342.8L805.4 332.5L806.2 322.3M732.5 302.6L736.0 306.0L739.4 305.1L737.7 310.3L736.8 315.4L739.4 318.8L742.8 317.1L746.3 314.6L742.8 320.5L741.1 323.1M831.6 349.7L830.6 354.0L832.3 358.3M765.1 198.0L761.7 186.0L759.1 174.0L758.3 162.0L757.4 153.4L756.6 146.6L759.1 139.7L763.4 132.8L766.8 124.3L769.4 117.4L773.7 110.6L780.5 104.6L785.7 101.1L783.1 96.0L780.5 92.6L785.7 91.7L790.8 93.4L796.0 90.0M754.8 174.0L751.4 177.4L750.6 186.0L752.3 192.8L754.8 199.7L753.1 204.0M861.4 619.4L864.0 614.3L869.1 612.6L876.0 612.2L879.4 610.5L886.3 611.2L896.5 612.2L906.8 613.4L912.0 614.3L915.4 618.6L922.2 621.1L930.0 623.7L932.5 628.8L934.2 632.3L929.1 634.5L922.2 634.0L917.1 630.6L912.8 629.7L910.2 633.1L906.0 632.3L904.3 638.3L900.0 639.1L896.5 634.8L889.7 633.5L882.8 634.0L878.5 629.7L875.1 625.4L871.7 622.0L865.7 621.1ZM580.0 706.3L586.9 705.6L593.7 706.8L600.6 703.4L607.4 700.8L606.6 697.9L613.4 699.1L619.4 701.7L625.4 703.4L633.1 702.5L638.3 699.1L645.1 700.8L652.0 703.4L657.1 704.8L664.0 705.1L669.1 710.2L674.3 715.4L682.8 719.7L691.4 723.1L695.7 726.5L697.4 730.0M651.6 703.7L652.8 706.8L656.3 707.2L657.1 704.8M670.0 717.1L672.5 715.4L684.5 722.2L682.0 727.0L676.0 724.0L670.8 722.2ZM589.4 700.8L591.7 699.5M706.8 708.5L710.2 707.7M717.1 725.7L719.7 727.0L722.2 727.4L720.5 725.3M760.8 580.9L770.2 581.7L770.2 583.4L764.2 584.3L761.7 583.4ZM542.8 630.0L545.4 622.2L548.8 612.0L552.3 600.0L554.8 589.7L557.4 581.1L558.3 572.5L556.5 565.7L558.3 558.8L560.0 552.0L564.3 545.1L570.2 538.3L575.4 531.4L579.7 522.8L582.2 516.8L580.5 509.1L577.1 504.0L572.0 501.4L566.8 503.1L560.0 505.7L551.4 504.0L542.8 501.9L535.1 500.9L527.4 503.1L518.8 505.4L508.6 508.3L498.3 510.5L486.3 512.6L476.0 515.1L467.4 519.4L461.4 525.4L458.9 533.1L457.1 543.4L457.1 553.7L456.3 562.3L452.0 566.5L449.4 572.5L448.6 579.4L445.1 585.4L440.0 589.3M573.7 545.1L575.4 540.8L579.7 537.9L582.2 539.1L579.7 544.3L576.2 548.6ZM560.8 504.9L565.1 502.3L569.4 503.1L566.8 507.1L562.5 507.1ZM577.1 504.0L579.7 510.0L583.1 516.0L581.4 512.6M557.4 565.7L549.7 569.1L548.8 573.4L553.1 575.1L556.5 569.1L558.3 573.4L554.0 578.5L558.3 577.7L556.5 581.1L553.1 581.1L551.4 585.4L554.8 584.5L557.4 582.0M538.5 599.1L535.1 603.4L532.5 610.2L529.1 614.5L527.4 617.1L532.5 618.0L536.0 615.4L538.5 612.0L540.3 605.1L539.4 600.0ZM542.8 630.0L538.5 639.4L536.0 649.7L535.1 660.0L533.4 668.6L530.8 677.1L527.4 682.3L522.3 689.1L515.4 694.3L509.4 699.4L510.3 703.7L515.4 702.8L519.7 701.1L518.8 708.0L521.4 702.8L527.4 705.4L535.1 709.7L541.1 704.5L549.7 702.0L554.8 706.3L561.7 703.7L570.2 705.4L580.5 706.6L590.8 705.4L601.1 702.5L608.8 698.5L613.1 699.4L619.9 702.0L626.8 703.2L633.7 701.5L640.0 699.1M540.3 617.1L536.8 627.4L533.4 637.7L530.8 644.6L530.0 651.4L529.1 656.6L531.7 663.4L530.8 672.0L527.4 680.5M509.4 699.4L507.7 702.8L512.0 707.1L508.6 711.4L503.4 714.0L494.8 716.5L495.7 720.0L501.7 719.1L506.8 714.8L510.3 709.7L512.8 706.3M589.1 700.3L591.7 699.4M540.1 736.2L541.1 736.2L541.1 740.5L540.1 740.5ZM442.1 641.1L444.3 639.1L446.9 639.1L443.4 641.1L442.6 644.9M459.7 666.0L461.4 665.1M492.3 661.4L495.2 661.7M460.0 526.9L457.1 554.3L454.5 562.8L450.2 569.7L448.5 578.3L441.7 585.1L433.1 592.0L424.5 598.0L417.7 602.3L410.8 607.4L405.7 609.5L409.1 603.6L400.5 604.3L392.0 605.7L384.3 607.7L378.3 611.7L369.7 613.9L361.1 614.3L352.5 616.8L344.0 619.4L335.4 621.5L326.8 624.0L320.8 622.8L318.3 617.7L314.8 610.8L308.8 609.5L304.6 608.3L301.1 604.0L294.3 603.5L285.7 603.5L278.9 600.5L275.4 595.4L271.1 590.3L267.7 586.0L263.4 580.0L261.7 573.1L260.0 568.8M410.8 607.4L414.2 611.7L421.1 613.4L428.8 609.1L432.2 604.0L429.7 601.4L424.5 600.5M302.8 616.0L305.4 613.4L306.3 616.3ZM315.7 634.0L318.3 633.1L318.6 638.3L316.6 639.1ZM345.7 661.4L348.3 657.6L353.4 657.1L358.5 659.7L362.0 663.1L357.7 661.4L353.4 659.2L349.1 659.2ZM272.9 609.1L275.4 608.3L277.1 610.0L273.7 611.7M278.9 600.5L281.4 603.1L278.0 604.0M442.5 640.0L445.9 638.6L443.4 640.0L442.5 642.5L444.2 645.1M384.3 607.7L384.8 610.8M344.0 618.5L347.4 617.3L347.7 619.4L344.8 620.4ZM260.8 570.0L257.4 560.5L251.4 552.0L244.5 545.1L238.5 540.0L234.3 533.1L229.1 524.5L225.7 516.0L224.0 509.1L227.4 505.7L224.0 498.8L218.8 492.0L215.4 486.8L212.8 480.0L211.1 471.4L210.3 462.8L212.0 456.0L214.6 449.1L214.6 440.6L213.7 432.0L214.6 425.1L215.4 420.0M215.4 488.6L218.0 495.4L221.4 504.0L224.0 506.5L228.3 504.0L225.7 498.8L221.4 493.7L217.1 490.3ZM187.1 485.1L190.6 486.8L191.4 482.6L194.8 480.8M198.3 482.6L200.8 482.0M202.6 471.4L206.0 473.1L205.1 478.3L203.4 480.0ZM209.4 480.0L212.0 480.8L212.8 484.3L210.3 483.4ZM215.4 430.0L216.3 417.1L217.1 403.4L218.8 391.4L221.4 381.1L224.8 370.8L229.1 362.3L232.5 353.7L234.3 345.1L233.4 334.8L231.7 324.6L229.1 314.3L227.4 304.0L227.4 293.7L230.0 285.1L233.4 280.0M225.7 300.0L227.4 290.5L230.8 282.0L236.0 273.4L242.8 264.8L251.4 257.1L260.0 251.1L270.2 245.1L280.5 240.0L290.8 234.8L297.7 228.8L304.5 222.0L311.4 216.0L318.2 210.8L326.8 206.6L333.7 203.5L340.0 201.4M245.4 248.5L247.1 252.8L249.7 255.4M304.5 206.6L307.1 200.6L313.1 198.0L317.4 199.7L316.5 204.8L312.2 209.1L309.7 213.4L307.1 210.0L305.4 206.6ZM208.6 257.1L210.3 260.5L210.6 264.5L208.9 261.4ZM642.0 490.8L647.1 489.1L654.0 486.5L660.8 484.8L659.1 480.5L660.0 473.7L664.3 467.7L671.1 462.6L679.7 458.3L688.3 454.5L698.6 451.4L707.1 450.6L715.7 449.7L724.3 446.6L732.8 444.6L741.4 444.2L750.0 444.9L756.0 445.9L760.2 445.4L767.1 442.8L775.7 441.1L784.2 442.8L792.8 445.4L801.4 448.0L809.9 452.3L818.5 457.4L825.4 462.6L830.0 466.0M642.0 490.8L643.7 493.4L650.6 492.5L657.4 490.8L658.3 495.1L664.3 492.5L672.0 489.1L675.4 483.1L681.4 480.5L688.3 479.2L695.1 478.8L700.3 473.7L707.1 468.6L712.3 465.1L715.7 462.0L722.5 462.6L732.8 462.0L743.1 462.0L750.0 463.8L752.5 467.7L748.3 471.1L741.4 472.0L736.3 472.0L737.1 475.4L743.1 478.0L750.0 480.5L756.8 482.3L762.0 484.8L767.1 484.0L767.1 478.0L769.7 483.1L775.7 484.8L784.2 484.8L792.8 485.7L799.7 490.8L806.5 495.1L813.4 498.5L821.9 501.1L830.0 502.5M700.3 500.3L703.7 494.3L708.8 490.5L715.7 489.5L720.8 492.5L722.5 498.5L720.8 502.8L715.7 505.9L708.8 507.1L703.7 504.5L701.1 502.0ZM705.4 502.8L708.0 500.3L706.3 496.0M722.5 463.1L724.3 468.6L726.0 471.1M903.4 504.0L912.0 509.1L920.5 512.5L927.4 514.3L934.2 516.8L941.1 519.4L949.7 518.5L954.0 522.0L953.1 527.1L948.8 529.7L949.7 534.0L956.5 533.1L963.4 534.0L968.5 534.5L972.8 533.1M780.0 448.3L790.3 451.7L800.6 453.4L810.8 456.8L821.1 463.7L829.7 470.6L840.0 473.1L850.3 474.8L858.8 479.1L869.1 484.3L877.7 489.4L886.3 493.7L894.8 499.7L903.4 504.0M780.0 485.1L786.9 484.8L792.0 485.1L797.1 489.4L804.0 493.7L810.8 498.0L819.4 499.7L829.7 502.3L838.3 502.3L845.1 500.5L850.3 500.5L853.7 507.4L857.1 516.0L858.8 522.8L864.0 528.0L870.8 532.3L877.7 533.1L886.3 534.0L894.0 533.1L900.0 534.8L904.3 540.8L901.7 546.8L894.8 551.1L888.0 555.4L882.8 562.2L889.7 564.0L900.0 562.2L910.2 561.4L920.5 559.7L930.8 558.8L941.1 558.8L949.7 559.7L958.2 561.4L964.4 561.9M892.3 420.9L895.7 428.6M961.7 445.4L953.1 448.3L947.1 454.3L944.2 461.1L945.4 469.7L948.8 477.4L951.4 482.6M840.0 313.7L845.1 315.4L853.7 311.1L856.3 314.6L865.7 314.2L876.0 311.1L877.7 306.8L882.8 306.8L889.7 309.4L896.5 313.7L901.7 316.3L906.8 318.8L908.5 324.8L906.0 330.8L901.7 336.0L900.8 343.7L898.3 345.4L894.0 340.3L898.3 337.7L900.8 331.7L898.3 326.6L893.1 321.4L891.4 315.4L886.3 311.1L881.1 310.3L878.5 314.6L877.7 319.7L874.3 316.3L865.7 317.1L857.1 319.7L850.3 322.3L845.1 319.7ZM837.4 340.3L839.1 339.1M844.3 341.6L846.5 342.3M888.8 377.1L893.1 374.9L900.0 373.7L905.1 372.0L900.0 377.1L894.0 379.3L889.7 378.8ZM912.0 359.1L917.1 357.4L920.5 360.0L925.7 364.3L931.7 369.4L936.0 374.5L936.8 381.4L935.1 388.3L936.0 392.5L932.5 388.3L929.1 383.1L926.5 379.7M912.0 359.1L911.1 366.0L906.8 371.1L900.0 374.5M948.8 390.0L951.4 388.8L954.0 393.4L956.5 399.4L959.9 404.5L963.4 408.0L959.9 410.5L957.4 408.8L959.1 406.2M869.1 376.3L867.4 369.4L869.1 366.0L872.5 371.1L869.4 370.0L873.5 375.5L877.6 383.7L882.4 390.6L884.4 397.4L887.2 404.3L889.2 411.1L890.6 418.0L888.5 424.2L884.4 426.9L880.3 424.8L879.0 419.4L877.6 412.5L874.8 407.0L871.4 401.5L866.6 397.4L861.1 393.3L857.0 390.6L861.1 389.2L865.2 385.1L868.0 378.2L868.7 372.7ZM877.6 412.5L881.7 415.2L885.8 413.9M874.8 407.0L879.0 405.6M893.3 422.8L895.4 429.0M913.2 383.0L913.9 390.6L916.0 397.4L921.5 402.9L926.3 409.8L930.4 416.6L935.2 423.5L940.6 427.6M768.5 366.0L767.9 370.2L769.9 373.6L774.7 374.3L778.1 372.2M837.1 341.4L838.5 340.0M844.0 341.4L846.0 342.1M688.2 200.0L692.3 204.1L695.1 208.2L699.2 211.7L702.6 216.5L705.4 220.6L704.7 223.3L708.8 221.3L713.6 221.9L716.3 227.4L719.1 232.2L719.1 239.8L717.7 246.6L715.9 253.5L713.6 259.0L712.9 264.4L712.2 271.3L714.3 275.4L716.3 280.9L719.8 287.7L723.2 294.6L726.6 301.5L730.0 308.3L732.8 313.8L734.8 320.0M717.7 264.4L721.1 265.1L726.6 267.9L727.3 272.7L724.6 278.1L721.1 282.9L724.6 283.6L721.1 285.0L717.7 282.3L715.6 278.8L715.0 274.0L716.3 268.5ZM718.4 267.2L722.5 268.5L721.1 272.7L718.4 276.8L717.0 271.3ZM731.4 302.1L734.2 304.9L737.6 305.6L740.3 304.9M743.1 319.3L747.2 314.5M765.0 200.0L769.1 206.9L773.2 215.1L777.3 223.3L780.8 230.8L784.2 237.0L788.3 242.5L789.7 247.3L786.9 249.4L785.6 245.2L782.1 241.1L780.1 241.8L782.1 246.6L784.9 253.5L787.6 260.3L791.1 268.5L793.8 275.4L796.5 282.3L799.3 289.1L802.0 296.0L804.1 302.8L805.4 309.7L806.1 316.5L806.1 320.0M796.5 294.6L799.3 296.7L800.6 294.6M802.7 304.9L804.8 306.3M752.0 208.9L751.3 213.7L753.3 219.9L756.1 219.2L756.5 215.8L754.0 211.7ZM750.6 241.1L753.3 240.0L755.1 242.5L753.3 245.0L751.0 243.6ZM763.6 267.2L766.4 266.5L767.1 269.9L765.0 272.0L763.4 269.2ZM766.4 272.0L767.1 274.7M762.7 287.7L765.3 287.1L766.1 289.8L764.3 292.1ZM771.2 305.6L773.9 301.5L778.0 297.3L782.1 296.0L785.6 298.7L786.9 304.9L785.6 311.1L782.1 315.2L778.0 313.8L774.6 309.7L772.1 307.6ZM772.8 306.3L773.9 305.2L775.0 306.3L773.9 307.3ZM140.3 666.0L144.6 671.1L150.6 674.2L160.8 675.9L171.1 678.0L179.7 679.7L188.3 688.3L198.6 690.8L205.4 694.3L214.0 700.3L224.3 701.6L232.8 702.0L241.4 707.1L250.0 709.7L256.0 711.4L265.4 709.7L274.0 705.4L284.2 701.6L292.8 698.6L299.7 693.1L306.5 691.4L316.8 691.4L325.4 693.1L330.0 694.8M287.7 684.0L291.1 678.8L292.8 684.0ZM315.1 635.1L317.7 633.8L318.5 637.7L316.8 639.9ZM320.0 691.7L326.9 693.1L333.7 696.0L338.9 699.1L343.1 699.4L349.1 703.7L357.7 710.5L366.3 718.3L374.8 726.0L383.4 734.5L392.0 742.3L400.5 750.0L409.1 757.7L417.7 764.5L425.4 768.0M374.8 691.7L379.1 688.3L380.8 684.8L380.0 689.1L386.0 692.6L389.4 690.0L390.3 694.3L395.4 696.8L400.5 700.3L404.8 703.7L399.7 704.6L395.4 700.3L388.6 697.7L386.0 701.1L384.3 696.8L380.8 698.6L379.1 694.3ZM345.7 661.7L347.4 658.3L352.6 657.4L357.7 659.1L361.5 662.6L357.7 661.7L353.4 659.5L348.3 660.5ZM430.5 744.0L433.1 742.3L436.2 743.1L434.0 746.5L432.3 745.2ZM694.3 725.1L697.7 729.4L702.5 734.0L699.4 736.3L696.0 738.0L693.4 740.5L695.1 745.7L697.7 750.8L699.4 756.0L698.5 761.1L696.0 764.5L693.4 768.0M693.4 739.7L696.0 737.1L697.3 740.5L695.1 744.0ZM696.0 756.8L698.5 755.6L699.1 758.5L696.8 759.4ZM342.6 193.4L344.3 190.0L347.2 190.0L346.5 194.3L343.4 199.4ZM358.9 193.9L361.4 186.5L363.1 186.5L365.7 193.9L362.3 198.0ZM387.1 198.5L390.6 196.3L394.0 198.5L391.4 202.0L388.0 201.1ZM400.0 199.4L408.6 196.0L412.8 199.4L418.0 198.5L415.4 202.8L416.3 207.1L412.0 208.8L406.0 205.4ZM462.5 198.5L464.3 196.0L467.7 196.0L467.7 200.3L464.3 202.8Z" stroke-width="1.5"/><g filter="url(#rough)"><path d="M552.9 178.8L556.3 175.4L560.6 172.0L558.9 175.4L564.0 174.6L568.3 167.7L570.0 172.8L572.6 166.8L574.3 172.0L576.8 174.0M587.1 173.4L590.6 169.9L594.8 172.0L600.0 170.6L603.4 175.4M611.1 179.2L615.4 178.0L620.5 178.0L618.8 182.3L624.0 184.8L627.4 189.1L624.0 190.0L620.5 186.5L616.3 184.0M754.0 142.8L758.3 141.4L756.6 146.6L760.0 149.1L757.4 152.6L759.1 157.7L757.4 161.1M757.4 141.4L761.7 134.9L765.1 128.0L767.7 120.8L770.3 115.7L775.4 110.2L780.5 105.4L785.7 102.0L789.1 98.6L793.4 93.4L798.5 90.9M780.0 106.3L785.1 99.4L790.3 96.8L786.9 92.6L792.0 90.0L798.9 90.8L805.7 86.6L811.7 84.0L809.1 79.7L814.3 78.9L821.1 75.8M541.1 620.5L542.8 625.7L542.0 630.0M529.1 649.7L530.8 656.6L529.1 651.4M216.3 487.7L220.5 492.8L225.7 499.7L228.3 504.8L225.7 510.8M211.1 462.8L211.6 456.8L213.7 449.1M214.6 427.4L213.7 413.7L212.0 400.0L211.1 394.8L214.6 391.4L216.3 381.1L215.4 372.5L213.7 367.4L218.0 363.1L224.0 361.4L226.5 364.8M232.5 340.8L228.3 331.4L224.8 324.6L226.5 319.4L224.0 314.3L220.5 307.4L224.0 298.9L220.5 293.7L215.4 292.9L217.1 288.6L222.3 286.9L225.7 283.4L229.1 280.9M157.1 301.4L161.4 305.7L164.0 306.6L165.7 311.7L167.4 318.6L165.4 320.3L164.0 316.0L160.6 311.7L159.7 307.4M213.7 292.2L218.8 288.8L217.1 294.0L222.3 292.2L225.7 287.1L229.1 280.2L222.3 273.4L227.4 270.8L232.5 273.4L230.0 278.5L226.5 285.4L224.0 295.7M232.5 263.1L236.8 258.0L242.8 257.1L239.4 261.4L236.0 266.5M251.4 239.1L253.1 244.3L258.3 246.0L256.5 239.1L260.0 243.4L266.8 237.4L267.7 242.5L270.2 244.3L277.1 239.1L282.2 238.3M300.2 220.3L302.0 225.4L307.1 221.1L311.4 216.0L318.2 209.1L324.2 206.6M660.8 472.8L666.0 466.8L672.8 461.4L681.4 457.4L690.0 454.0M756.0 448.8L763.7 444.9L770.5 442.5L779.1 442.8L784.2 444.9L791.1 447.1L798.0 450.6L804.8 451.4L811.7 455.7L818.5 460.0L823.7 464.3L830.0 468.6M709.7 484.0L714.0 485.7L718.3 488.3L720.0 493.4L722.5 498.5L727.7 502.0L736.3 501.1L743.1 498.5M685.7 487.4L690.0 488.6L696.0 489.1M699.4 492.5L700.3 495.1M714.0 479.7L715.7 475.4M717.4 463.4L719.1 466.8M808.2 496.0L815.1 499.4L820.2 501.1M780.0 444.0L788.6 447.4L797.1 450.0L805.7 452.6L814.3 456.8L822.8 462.8L831.4 465.4L840.0 464.6L848.6 466.3L857.1 468.8L865.7 471.4L874.3 475.7L882.8 481.7L889.7 490.3L896.5 497.1L903.4 504.0M910.2 510.0L913.7 511.7L917.1 512.5L924.0 515.1M948.8 529.7L953.1 532.3L959.9 533.1M825.4 518.5L831.4 521.1L838.3 526.3L846.8 531.4L855.4 534.8L862.3 538.3M862.3 529.7L869.1 531.4L872.5 536.5L876.0 544.3L869.1 540.8L864.0 534.8M845.1 503.1L847.7 509.1L849.4 504.0M809.1 498.0L812.6 499.7L816.0 499.2M932.5 420.9L937.7 425.1L944.5 430.3L951.4 433.7L959.9 437.1L951.4 435.4L942.8 434.6L937.7 435.4M963.4 426.9L966.8 433.7L968.5 440.6L971.9 445.7M804.0 569.1L816.8 567.0M876.0 315.4L879.4 317.1L879.4 321.4M859.7 293.1L865.7 296.6L872.5 300.0L879.4 301.7M865.7 305.1L868.3 302.6M876.0 348.0L880.3 350.5L882.8 355.7L882.3 360.8L878.5 363.4M872.5 360.0L876.0 361.7M831.4 349.2L830.2 354.0L832.3 358.3M866.5 366.8L870.0 368.5L869.1 372.8M912.0 358.3L917.1 357.1L919.7 359.1M936.0 375.4L936.3 386.5M941.1 392.5L947.1 393.7M790.3 417.4L795.4 414.8L801.4 413.1M810.0 411.4L812.6 413.1M813.4 416.5L814.3 420.0M935.2 423.5L940.6 427.6L946.1 431.0L953.0 434.4L959.8 436.9M769.9 388.7L774.0 386.6L779.5 383.9L785.0 380.4L790.5 377.0L794.6 372.9L797.3 368.8L800.1 363.3L802.1 356.5M747.3 340.7L752.1 345.5L759.0 347.5L765.8 350.3M790.5 416.8L796.0 414.7L801.7 413.1M810.4 411.3L812.4 413.3M813.5 417.5L815.2 420.9M816.5 423.6L818.2 427.1M820.6 429.8L824.1 433.5M830.2 350.3L831.6 348.9L832.3 351.0L830.9 353.7L831.6 357.8M712.9 271.3L715.9 276.8L719.1 282.3M782.1 247.3L784.9 254.8L788.3 262.4L791.7 270.6L795.2 279.5L798.6 288.4L801.3 296.0M753.3 200.0L754.7 202.1L753.3 204.8M744.4 236.3L747.2 235.6L748.5 239.1M763.6 234.3L766.4 236.3L769.1 235.9L767.7 239.1L765.0 239.1M771.2 236.3L773.2 238.4L773.9 241.8L775.3 243.2M760.2 256.2L762.3 254.8L765.7 253.7L765.0 256.2L762.3 257.6L761.6 260.3M759.5 264.4L762.3 263.1L763.6 265.1L760.9 267.2M304.0 690.0L308.2 690.8M147.1 671.1L149.7 672.8M160.8 675.4L162.6 675.9M169.1 676.6L171.1 677.3M441.7 644.6L442.5 640.3L446.8 638.6M453.7 750.8L455.4 753.1M459.2 666.3L461.4 665.5M465.3 662.6L467.0 661.4M338.3 112.0L344.3 117.1L346.9 124.0L347.7 130.0L346.9 136.8L348.6 141.1L353.7 144.6L354.6 140.3L352.0 134.3L351.1 128.3L348.6 121.4L345.1 115.4M378.6 191.7L383.7 190.8L384.9 195.1L381.1 196.0M424.8 190.8L427.4 195.1L429.1 198.5L433.4 199.4L436.8 200.3L434.3 201.1L429.1 199.4L426.5 196.0M420.5 202.8L425.7 206.3L430.8 204.5L433.4 211.4L429.1 215.7L435.1 218.3L441.1 222.5L446.3 226.8M484.0 202.8L489.1 210.5L494.2 214.0L502.0 218.3L505.4 222.0L502.8 226.8L494.2 230.6M589.8 75.6L591.5 78.0L592.6 80.6" stroke-width="2.0"/><path d="M733.4 314.6L736.0 317.1L738.5 322.3L736.8 325.3L733.9 320.5ZM748.0 339.1L752.3 342.8L757.4 344.9L763.1 348.3L767.2 351.7L766.5 354.0L762.0 351.1L756.5 347.6L751.4 344.9ZM940.8 649.2L941.8 649.2L941.8 650.6L940.8 650.6ZM807.1 705.4L808.1 705.4L808.1 706.5L807.1 706.5ZM811.9 705.6L812.7 705.6L812.7 706.5L811.9 706.5ZM814.3 703.1L816.0 703.1L816.0 704.4L814.3 704.4ZM852.0 702.9L853.0 702.9L853.0 703.9L852.0 703.9ZM584.8 688.8L590.3 684.9L597.1 683.2L602.8 683.2L597.1 685.4L590.3 688.0L586.0 690.0ZM608.8 682.5L611.2 681.1L612.2 682.8L610.0 684.9ZM675.5 649.2L676.5 649.2L676.5 650.3L675.5 650.3ZM695.7 697.4L696.7 697.4L696.7 698.4L695.7 698.4ZM696.9 703.7L697.9 703.7L697.9 704.8L696.9 704.8ZM697.4 700.3L698.4 700.3L698.4 701.3L697.4 701.3ZM704.6 713.7L705.6 713.7L705.6 714.7L704.6 714.7ZM708.0 723.8L709.0 723.8L709.0 724.8L708.0 724.8ZM726.9 702.5L727.9 702.5L727.9 703.6L726.9 703.6ZM562.0 602.0L563.1 602.0L563.1 603.1L562.0 603.1ZM562.0 607.7L563.1 607.7L563.1 608.7L562.0 608.7ZM542.8 624.0L544.9 625.7L544.2 629.1L541.1 633.4L540.3 630.8ZM542.8 649.7L546.3 643.7L547.6 651.4L543.7 657.9ZM556.5 648.0L557.6 648.0L557.6 649.0L556.5 649.0ZM553.5 657.8L554.5 657.8L554.5 658.8L553.5 658.8ZM556.0 652.6L557.1 652.6L557.1 653.6L556.0 653.6ZM545.7 669.8L546.8 669.8L546.8 670.8L545.7 670.8ZM546.6 673.5L547.6 673.5L547.6 674.6L546.6 674.6ZM542.8 715.5L543.9 715.5L543.9 716.5L542.8 716.5ZM452.9 643.7L453.9 643.7L453.9 644.7L452.9 644.7ZM465.2 661.5L466.2 661.5L466.2 662.6L465.2 662.6ZM515.4 691.7L519.7 689.1L520.5 691.7L516.3 693.4ZM573.7 695.1L577.1 693.9L578.0 696.0L574.5 697.3ZM584.8 688.3L590.8 684.8L602.0 683.1L595.1 686.5L587.4 689.5ZM608.8 681.9L611.4 681.1L611.9 684.0L609.3 684.8ZM471.7 664.8L479.4 663.8L483.7 664.3L478.6 666.0L474.3 666.0ZM414.2 606.5L419.4 602.6L425.4 599.2L424.5 602.3L418.5 605.7ZM368.0 614.3L369.0 616.3L370.0 614.3ZM325.1 624.0L326.2 626.3L327.2 624.0ZM396.1 522.9L397.1 522.9L397.1 523.9L396.1 523.9ZM398.3 525.5L399.3 525.5L399.3 526.5L398.3 526.5ZM407.2 550.3L408.2 550.3L408.2 551.4L407.2 551.4ZM453.1 643.2L454.2 643.2L454.2 644.3L453.1 644.3ZM438.6 656.1L439.6 656.1L439.6 657.1L438.6 657.1ZM433.4 664.3L434.5 664.3L434.5 665.3L433.4 665.3ZM458.3 666.0L459.3 666.0L459.3 667.0L458.3 667.0ZM259.5 622.3L260.5 622.3L260.5 623.3L259.5 623.3ZM269.8 585.5L270.8 585.5L270.8 586.5L269.8 586.5ZM177.0 532.8L178.4 532.8L178.4 534.1L177.0 534.1ZM161.9 559.8L163.3 559.8L163.3 561.2L161.9 561.2ZM194.5 469.4L195.9 469.4L195.9 470.7L194.5 470.7ZM237.9 540.7L239.2 540.7L239.2 542.0L237.9 542.0ZM246.4 549.2L247.8 549.2L247.8 550.6L246.4 550.6ZM169.1 333.1L175.1 330.0L174.3 336.6L172.6 338.3ZM191.4 154.3L195.2 156.9L193.1 160.6L191.8 157.7ZM191.9 165.8L195.7 168.0L194.0 168.5ZM775.7 442.5L784.2 443.7L791.1 446.3L792.0 449.7L784.2 448.0ZM792.8 447.1L801.4 446.3L806.5 450.6L803.1 454.0L796.2 452.3ZM739.7 478.0L744.8 479.7L750.0 479.2L756.0 482.3L760.2 481.4L765.4 484.8L760.2 486.5L753.4 484.8L748.3 482.3L743.1 480.5ZM792.8 424.9L793.8 424.9L793.8 425.9L792.8 425.9ZM825.4 517.4L830.0 518.3L830.0 520.0L827.1 520.0ZM821.1 506.3L822.1 506.3L822.1 507.3L821.1 507.3ZM783.4 445.7L790.3 445.7L798.9 447.4L805.7 451.7L800.6 453.4L792.0 450.8ZM831.4 464.2L840.8 462.0L846.0 463.7L841.7 468.0L833.1 468.0ZM848.6 465.4L855.4 465.9L869.1 470.6L876.0 474.8L882.8 480.8L876.0 479.1L865.7 474.0L855.4 470.6ZM879.4 421.7L882.8 420.0L889.7 420.0L888.8 426.0L883.7 427.7ZM793.2 424.6L794.2 424.6L794.2 425.7L793.2 425.7ZM869.8 459.2L870.8 459.2L870.8 460.3L869.8 460.3ZM948.3 485.5L949.3 485.5L949.3 486.5L948.3 486.5ZM892.3 315.4L900.0 316.3L905.1 319.7L903.4 326.6L898.3 330.0L896.5 323.1ZM840.8 314.6L846.0 318.0L850.3 321.4L846.8 316.3ZM853.7 310.3L856.3 309.4L858.0 313.7L854.6 314.9ZM901.2 411.7L902.2 411.7L902.2 412.8L901.2 412.8ZM909.7 409.5L910.8 409.5L910.8 410.5L909.7 410.5ZM915.7 372.3L916.8 372.3L916.8 373.3L915.7 373.3ZM872.8 402.9L880.3 399.5L884.4 404.3L881.0 408.4L876.2 409.8ZM881.0 411.1L887.2 408.4L889.2 416.6L884.4 418.0ZM880.3 420.7L885.8 419.4L889.9 422.1L885.8 426.9L881.0 424.8ZM861.1 390.6L865.9 385.1L867.3 390.6L863.9 392.6ZM901.0 412.6L902.1 412.6L902.1 413.7L901.0 413.7ZM903.4 415.4L904.5 415.4L904.5 416.5L903.4 416.5ZM909.7 409.6L910.8 409.6L910.8 410.7L909.7 410.7ZM949.0 485.7L950.1 485.7L950.1 486.8L949.0 486.8ZM969.8 420.2L970.9 420.2L970.9 421.3L969.8 421.3ZM746.6 394.2L750.7 389.4L757.6 385.9L764.4 385.2L767.2 387.3L764.4 390.7L757.6 392.8L752.1 394.8ZM734.3 392.8L736.3 392.1L737.0 394.2L735.0 394.8ZM740.4 394.8L743.9 393.5L744.6 396.2ZM709.0 391.0L710.1 391.0L710.1 392.1L709.0 392.1ZM711.2 390.7L712.1 390.7L712.1 391.5L711.2 391.5ZM769.9 364.7L774.0 364.0L776.8 367.4L774.7 370.2L770.6 368.1ZM768.5 355.1L772.0 355.8L772.7 357.8L769.2 357.5ZM793.0 424.7L794.0 424.7L794.0 425.8L793.0 425.8ZM856.3 390.0L860.0 390.7L860.0 394.8L857.7 393.5ZM715.9 232.9L719.1 232.2L719.5 239.1L717.7 241.1L715.9 237.0ZM759.0 272.1L760.1 272.1L760.1 273.2L759.0 273.2ZM439.5 656.0L440.5 656.0L440.5 657.1L439.5 657.1ZM433.5 664.3L434.5 664.3L434.5 665.3L433.5 665.3ZM435.7 674.4L436.7 674.4L436.7 675.4L435.7 675.4ZM430.0 684.7L431.1 684.7L431.1 685.7L430.0 685.7ZM452.8 643.5L453.8 643.5L453.8 644.6L452.8 644.6ZM468.6 752.5L469.6 752.5L469.6 753.6L468.6 753.6ZM483.2 760.6L484.2 760.6L484.2 761.6L483.2 761.6ZM513.1 766.6L514.2 766.6L514.2 767.6L513.1 767.6ZM487.1 758.5L490.5 757.2L489.7 759.9ZM695.5 696.8L696.5 696.8L696.5 697.9L695.5 697.9ZM696.8 700.6L697.9 700.6L697.9 701.6L696.8 701.6ZM696.5 703.7L697.5 703.7L697.5 704.7L696.5 704.7ZM706.6 708.3L707.6 708.3L707.6 709.4L706.6 709.4ZM709.2 707.5L710.2 707.5L710.2 708.5L709.2 708.5ZM704.4 713.8L705.4 713.8L705.4 714.8L704.4 714.8ZM707.8 724.3L708.8 724.3L708.8 725.3L707.8 725.3ZM716.9 725.5L717.9 725.5L717.9 726.5L716.9 726.5ZM719.5 727.2L720.5 727.2L720.5 728.2L719.5 728.2ZM722.0 729.8L723.1 729.8L723.1 730.8L722.0 730.8ZM717.7 728.0L718.8 728.0L718.8 729.1L717.7 729.1ZM717.4 739.5L718.4 739.5L718.4 740.5L717.4 740.5ZM703.2 749.5L704.2 749.5L704.2 750.5L703.2 750.5ZM707.5 747.7L708.5 747.7L708.5 748.8L707.5 748.8ZM704.9 752.9L705.9 752.9L705.9 753.9L704.9 753.9ZM710.9 752.0L711.9 752.0L711.9 753.1L710.9 753.1ZM714.3 753.7L715.3 753.7L715.3 754.8L714.3 754.8ZM713.5 755.5L714.5 755.5L714.5 756.5L713.5 756.5ZM717.7 746.0L718.8 746.0L718.8 747.1L717.7 747.1ZM720.3 748.6L721.3 748.6L721.3 749.6L720.3 749.6ZM716.0 746.9L717.1 746.9L717.1 747.9L716.0 747.9ZM707.5 758.0L708.5 758.0L708.5 759.1L707.5 759.1ZM710.0 757.2L711.1 757.2L711.1 758.2L710.0 758.2ZM712.6 761.5L713.6 761.5L713.6 762.5L712.6 762.5ZM716.0 763.2L717.1 763.2L717.1 764.2L716.0 764.2ZM720.3 757.2L721.3 757.2L721.3 758.2L720.3 758.2ZM721.5 759.7L722.5 759.7L722.5 760.8L721.5 760.8ZM726.6 702.8L727.7 702.8L727.7 703.9L726.6 703.9ZM794.9 753.7L795.9 753.7L795.9 754.8L794.9 754.8ZM796.6 751.2L797.6 751.2L797.6 752.2L796.6 752.2ZM794.0 758.0L795.0 758.0L795.0 759.1L794.0 759.1ZM418.0 188.3L420.5 190.0L420.5 192.5L418.5 190.8ZM490.8 187.4L500.2 184.8L500.2 192.5L494.2 201.1L489.1 208.0L484.8 209.7L484.0 202.8L487.4 198.5ZM466.0 207.1L470.2 206.3L477.1 211.4L480.5 209.7L479.7 214.8L474.5 218.3L470.2 220.0L469.4 213.1Z" stroke-width="1" fill="#664000"/><path d="M776.8 370.8L782.3 369.5L789.1 368.1L794.6 369.5L793.2 374.3L787.7 377.7L782.3 379.1L778.8 376.3ZM451.4 218.3L456.5 215.7L461.7 218.3L463.4 223.4L458.3 226.5L453.1 223.4Z" stroke-width="1.3" fill="#664000" fill-opacity="0.75"/></g><path d="M511.4 187.4L513.1 193.4L509.7 201.1L502.8 208.0L497.7 210.5M501.1 180.5L511.4 179.2L525.1 181.4L535.4 179.2M833.7 361.7L835.4 368.5M743.1 498.5L750.0 500.3L756.8 500.3L761.1 498.0M763.7 500.3L772.2 499.1M728.5 468.6L731.1 473.7M791.1 416.8L796.2 414.6L801.4 413.4M810.8 411.7L814.2 417.1L818.5 425.7L823.7 433.4M814.3 420.0L819.4 426.9L823.7 432.9M879.4 301.7L886.3 304.3L891.4 308.6L896.5 312.8M833.5 362.5L835.7 369.4M833.7 361.9L835.7 368.8" stroke-width="1.6" stroke-dasharray="4 2.5"/><path d="M538.5 649.7L539.4 660.0L537.7 668.6L536.0 677.1L538.5 684.0L534.3 689.1L531.7 694.3M840.0 520.3L841.7 524.5L846.0 522.8L848.6 519.4L850.3 524.5M877.7 538.3L881.1 543.4L886.3 540.0M886.3 329.1L888.8 331.7L888.0 336.0L889.7 337.7" stroke-width="1.5" stroke-dasharray="1.5 3"/></g>
<text x="139.9" y="789.0" font-size="20.6" text-anchor="middle" fill="#000" textLength="69.5" lengthAdjust="spacingAndGlyphs">100°W</text>
<text x="308.8" y="789.0" font-size="20.6" text-anchor="middle" fill="#000" textLength="57.3" lengthAdjust="spacingAndGlyphs">95°W</text>
<text x="476.0" y="789.0" font-size="20.6" text-anchor="middle" fill="#000" textLength="57.3" lengthAdjust="spacingAndGlyphs">90°W</text>
<text x="643.0" y="789.0" font-size="20.6" text-anchor="middle" fill="#000" textLength="57.3" lengthAdjust="spacingAndGlyphs">85°W</text>
<text x="810.0" y="789.0" font-size="20.6" text-anchor="middle" fill="#000" textLength="57.3" lengthAdjust="spacingAndGlyphs">80°W</text>
<text x="131.6" y="118.8" font-size="20.6" text-anchor="end" fill="#000" textLength="51.2" lengthAdjust="spacingAndGlyphs">32°N</text>
<text x="131.6" y="273.0" font-size="20.6" text-anchor="end" fill="#000" textLength="51.2" lengthAdjust="spacingAndGlyphs">28°N</text>
<text x="131.6" y="421.6" font-size="20.6" text-anchor="end" fill="#000" textLength="51.2" lengthAdjust="spacingAndGlyphs">24°N</text>
<text x="131.6" y="565.6" font-size="20.6" text-anchor="end" fill="#000" textLength="51.2" lengthAdjust="spacingAndGlyphs">20°N</text>
<text x="131.6" y="706.0" font-size="20.6" text-anchor="end" fill="#000" textLength="51.2" lengthAdjust="spacingAndGlyphs">16°N</text>
<rect x="989.0" y="75.2" width="34.8" height="693.3" fill="url(#jet)"/>
<rect x="989.0" y="75.2" width="34.8" height="693.3" fill="none" stroke="#262626" stroke-width="0.8"/>
<path d="M1016.2 699.2H1023.8M1016.2 629.8H1023.8M1016.2 560.5H1023.8M1016.2 491.2H1023.8M1016.2 421.9H1023.8M1016.2 352.5H1023.8M1016.2 283.2H1023.8M1016.2 213.9H1023.8M1016.2 144.5H1023.8" stroke="#262626" stroke-width="0.8"/>
<text x="1032.4" y="777.4" font-size="24.6" text-anchor="start" fill="#262626" textLength="46.6" lengthAdjust="spacingAndGlyphs">290</text>
<text x="1032.4" y="708.1" font-size="24.6" text-anchor="start" fill="#262626" textLength="46.6" lengthAdjust="spacingAndGlyphs">292</text>
<text x="1032.4" y="638.7" font-size="24.6" text-anchor="start" fill="#262626" textLength="46.6" lengthAdjust="spacingAndGlyphs">294</text>
<text x="1032.4" y="569.4" font-size="24.6" text-anchor="start" fill="#262626" textLength="46.6" lengthAdjust="spacingAndGlyphs">296</text>
<text x="1032.4" y="500.1" font-size="24.6" text-anchor="start" fill="#262626" textLength="46.6" lengthAdjust="spacingAndGlyphs">298</text>
<text x="1032.4" y="430.8" font-size="24.6" text-anchor="start" fill="#262626" textLength="46.6" lengthAdjust="spacingAndGlyphs">300</text>
<text x="1032.4" y="361.4" font-size="24.6" text-anchor="start" fill="#262626" textLength="46.6" lengthAdjust="spacingAndGlyphs">302</text>
<text x="1032.4" y="292.1" font-size="24.6" text-anchor="start" fill="#262626" textLength="46.6" lengthAdjust="spacingAndGlyphs">304</text>
<text x="1032.4" y="222.8" font-size="24.6" text-anchor="start" fill="#262626" textLength="46.6" lengthAdjust="spacingAndGlyphs">306</text>
<text x="1032.4" y="153.4" font-size="24.6" text-anchor="start" fill="#262626" textLength="46.6" lengthAdjust="spacingAndGlyphs">308</text>
<text x="1032.4" y="84.1" font-size="24.6" text-anchor="start" fill="#262626" textLength="46.6" lengthAdjust="spacingAndGlyphs">310</text>
</svg></body></html>
